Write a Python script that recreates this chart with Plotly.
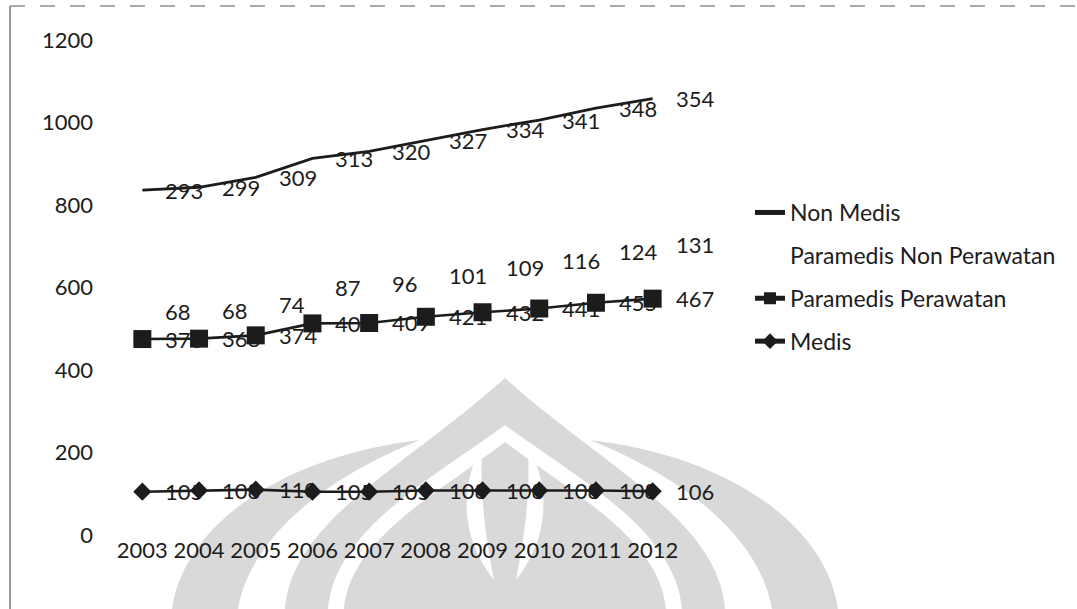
import numpy as np
import plotly.graph_objects as go

# Staff counts per year (stacked line chart)
years = ["2003", "2004", "2005", "2006", "2007", "2008", "2009", "2010", "2011", "2012"]
medis = [105, 108, 110, 105, 105, 108, 108, 108, 108, 106]
paramedis_perawatan = [370, 368, 374, 408, 409, 421, 432, 441, 455, 467]
paramedis_non_perawatan = [68, 68, 74, 87, 96, 101, 109, 116, 124, 131]
non_medis = [293, 299, 309, 313, 320, 327, 334, 341, 348, 354]
y_ticks = [0, 200, 400, 600, 800, 1000, 1200]

W, H = 1077, 609
ML, MR, MT, MB = 114, 396, 40, 74
PW, PH = W - ML - MR, H - MT - MB
FONT = "Lato"
INK = "#1c1c1c"
MARK = "#d9d9d9"


def P(x, y):
    """pixel position -> paper coordinates for decorative shapes"""
    return f"{(x - ML) / PW:.4f},{(H - MB - y) / PH:.4f}"


fig = go.Figure()

series = [
    ("Medis", medis, 4, dict(mode="lines+markers", line=dict(color=INK, width=2.6),
                             marker=dict(symbol="diamond", size=14, color=INK))),
    ("Paramedis Perawatan", paramedis_perawatan, 3,
     dict(mode="lines+markers", line=dict(color=INK, width=2.6),
          marker=dict(symbol="square", size=18, color=INK))),
    ("Paramedis Non Perawatan", paramedis_non_perawatan, 2,
     dict(mode="lines", line=dict(color="rgba(0,0,0,0)", width=0))),
    ("Non Medis", non_medis, 1, dict(mode="lines", line=dict(color=INK, width=2.8))),
]

for name, vals, rank, style in series:
    fig.add_trace(go.Scatter(
        x=years, y=vals, name=name, stackgroup="staff", fill="none",
        legendgroup=name, legendrank=rank, hoverinfo="skip", **style))

# value labels, placed to the right of each stacked point
stack = np.cumsum([s[1] for s in series], axis=0)
annotations = []
for (name, vals, _, _), tops in zip(series, stack):
    for i, (v, top) in enumerate(zip(vals, tops)):
        annotations.append(dict(
            x=i, y=float(top), xref="x", yref="y", text=str(v), showarrow=False,
            xanchor="left", yanchor="middle", xshift=21,
            font=dict(family=FONT, size=22, color=INK)))

# faint emblem in the background
shapes = []
gray_paths = [
    # central dome
    "M" + P(285, 609) + " C" + P(292, 520) + " " + P(405, 468) + " " + P(505, 378)
    + " C" + P(605, 468) + " " + P(718, 520) + " " + P(725, 609) + " Z",
    # left leaf
    "M" + P(172, 609) + " C" + P(185, 520) + " " + P(290, 455) + " " + P(420, 440)
    + " C" + P(320, 480) + " " + P(250, 540) + " " + P(238, 609) + " Z",
    # right leaf
    "M" + P(838, 609) + " C" + P(825, 520) + " " + P(720, 455) + " " + P(590, 440)
    + " C" + P(690, 480) + " " + P(760, 540) + " " + P(772, 609) + " Z",
]
white_paths = [
    # inner arch gap
    "M" + P(328, 609) + " C" + P(335, 530) + " " + P(430, 480) + " " + P(505, 425)
    + " C" + P(580, 480) + " " + P(675, 530) + " " + P(682, 609)
    + " L" + P(666, 609) + " C" + P(660, 540) + " " + P(575, 495) + " " + P(505, 442)
    + " C" + P(435, 495) + " " + P(350, 540) + " " + P(344, 609) + " Z",
    # inner lenses
    "M" + P(482, 445) + " C" + P(458, 490) + " " + P(462, 540) + " " + P(494, 580)
    + " C" + P(484, 530) + " " + P(480, 490) + " " + P(482, 445) + " Z",
    "M" + P(528, 445) + " C" + P(552, 490) + " " + P(548, 540) + " " + P(516, 580)
    + " C" + P(526, 530) + " " + P(530, 490) + " " + P(528, 445) + " Z",
]
for p in gray_paths:
    shapes.append(dict(type="path", path=p, xref="paper", yref="paper",
                       fillcolor=MARK, line=dict(width=0), layer="below"))
for p in white_paths:
    shapes.append(dict(type="path", path=p, xref="paper", yref="paper",
                       fillcolor="white", line=dict(width=0), layer="below"))

# chart frame
x0, _ = P(10, 0).split(",")
_, y1 = P(0, 6).split(",")
shapes.append(dict(type="line", xref="paper", yref="paper",
                   x0=float(x0), x1=float(x0), y0=-1, y1=float(y1),
                   line=dict(color="#555", width=1.2)))
shapes.append(dict(type="line", xref="paper", yref="paper",
                   x0=float(x0), x1=2, y0=float(y1), y1=float(y1),
                   line=dict(color="#555", width=1.2, dash="longdash")))

fig.update_layout(
    width=W, height=H,
    margin=dict(l=ML, r=MR, t=MT, b=MB, pad=0),
    paper_bgcolor="white", plot_bgcolor="white",
    font=dict(family=FONT, size=22, color=INK),
    showlegend=True,
    legend=dict(x=(750 - ML) / PW, xanchor="left", y=(H - MB - 191) / PH,
                yanchor="top", traceorder="grouped", tracegroupgap=10,
                bgcolor="rgba(0,0,0,0)", font=dict(family=FONT, size=23, color=INK),
                itemsizing="constant"),
    annotations=annotations,
    shapes=shapes,
    xaxis=dict(type="category", range=[-0.5, 9.5], showgrid=False, zeroline=False,
               showline=False, ticks="", ticklabelstandoff=0,
               tickfont=dict(family=FONT, size=22, color=INK), fixedrange=True),
    yaxis=dict(range=[0, 1200], tickvals=y_ticks, showgrid=False, zeroline=False,
               showline=False, ticks="", ticklabelstandoff=20,
               tickfont=dict(family=FONT, size=22, color=INK), fixedrange=True),
)

fig.write_html("out.html")
